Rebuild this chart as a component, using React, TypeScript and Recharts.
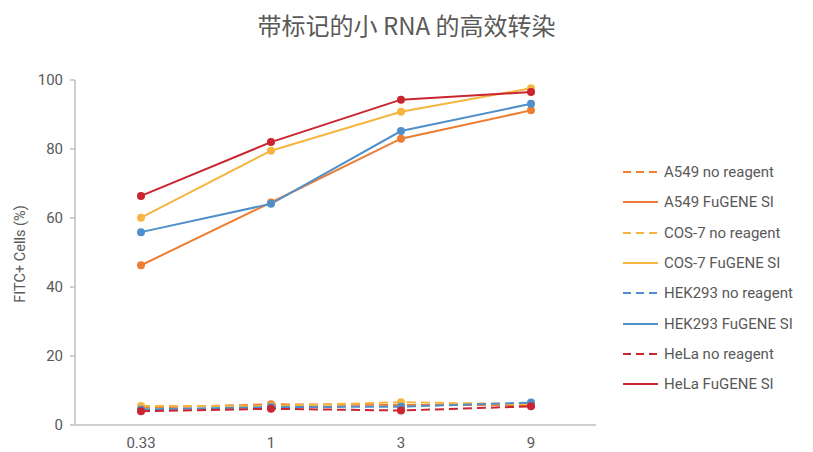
import React from 'react';
import { LineChart, Line, XAxis, YAxis } from 'recharts';

const categories = ['0.33', '1', '3', '9'];
const a549None = [5.0, 6.0, 5.8, 5.8];
const a549Fugene = [46.3, 64.5, 83.0, 91.2];
const cos7None = [5.5, 5.5, 6.6, 6.0];
const cos7Fugene = [60.1, 79.5, 90.8, 97.6];
const hek293None = [4.5, 5.2, 5.3, 6.5];
const hek293Fugene = [55.9, 64.1, 85.2, 93.1];
const helaNone = [4.0, 4.7, 4.2, 5.4];
const helaFugene = [66.4, 82.0, 94.3, 96.5];
const yTicks = [0, 20, 40, 60, 80, 100];

const seriesDefs = [
  { key: 'a549None', name: 'A549 no reagent', values: a549None, color: '#ED7D31', dashed: true },
  { key: 'a549Fugene', name: 'A549 FuGENE SI', values: a549Fugene, color: '#ED7D31', dashed: false },
  { key: 'cos7None', name: 'COS-7 no reagent', values: cos7None, color: '#F5B53F', dashed: true },
  { key: 'cos7Fugene', name: 'COS-7 FuGENE SI', values: cos7Fugene, color: '#F5B53F', dashed: false },
  { key: 'hek293None', name: 'HEK293 no reagent', values: hek293None, color: '#4F90CB', dashed: true },
  { key: 'hek293Fugene', name: 'HEK293 FuGENE SI', values: hek293Fugene, color: '#4F90CB', dashed: false },
  { key: 'helaNone', name: 'HeLa no reagent', values: helaNone, color: '#C9242F', dashed: true },
  { key: 'helaFugene', name: 'HeLa FuGENE SI', values: helaFugene, color: '#C9242F', dashed: false },
];

const data = categories.map((c, i) => {
  const row: Record<string, any> = { cat: c };
  seriesDefs.forEach((s) => {
    row[s.key] = s.values[i];
  });
  return row;
});

const FONT = 'Roboto, "Noto Sans", sans-serif';
const TEXT = '#595959';

const LegendBox = () => (
  <div
    style={{
      position: 'absolute',
      left: 622,
      top: 157,
      width: 190,
      fontFamily: FONT,
      fontSize: 15,
      color: TEXT,
    }}
  >
    {seriesDefs.map((s) => (
      <div key={s.key} style={{ display: 'flex', alignItems: 'center', height: 30.3 }}>
        <svg width={38} height={10} style={{ marginRight: 4 }}>
          <line
            x1={1}
            y1={5}
            x2={36}
            y2={5}
            stroke={s.color}
            strokeWidth={2}
            strokeDasharray={s.dashed ? '8 5' : undefined}
          />
        </svg>
        <span>{s.name}</span>
      </div>
    ))}
  </div>
);

export default function App() {
  return (
    <div style={{ position: 'absolute', left: 0, top: 0, width: 813, height: 452, background: '#fff', overflow: 'hidden' }}>
      <div
        style={{
          position: 'absolute',
          left: 0,
          top: 10,
          width: 813,
          textAlign: 'center',
          fontFamily: '"Noto Sans CJK SC", sans-serif',
          fontSize: 24,
          color: TEXT,
          lineHeight: '30px',
        }}
      >
        带标记的小 RNA 的高效转染
      </div>
      <div
        style={{
          position: 'absolute',
          left: 20,
          top: 254,
          transform: 'translate(-50%, -50%) rotate(-90deg)',
          fontFamily: FONT,
          fontSize: 14.5,
          color: TEXT,
          whiteSpace: 'nowrap',
        }}
      >
        FITC+ Cells (%)
      </div>
      <LineChart
        width={813}
        height={452}
        data={data}
        margin={{ top: 80, right: 217, bottom: 0, left: 19 }}
      >
        <XAxis
          dataKey="cat"
          height={27}
          padding={{ left: 66, right: 65 }}
          axisLine={{ stroke: '#BFBFBF', strokeWidth: 1.5 }}
          tickLine={false}
          tick={{ fill: TEXT, fontSize: 15, fontFamily: FONT }}
          tickMargin={6}
        />
        <YAxis
          width={56}
          domain={[0, 100]}
          ticks={yTicks}
          interval={0}
          axisLine={{ stroke: '#BFBFBF', strokeWidth: 1.5 }}
          tickLine={{ stroke: '#BFBFBF', strokeWidth: 1.5 }}
          tickSize={5}
          tick={{ fill: TEXT, fontSize: 15, fontFamily: FONT }}
          tickMargin={7}
        />
        {seriesDefs.map((s) => (
          <Line
            key={s.key}
            dataKey={s.key}
            name={s.name}
            stroke={s.color}
            strokeWidth={2}
            strokeDasharray={s.dashed ? '9 5' : undefined}
            dot={{ r: 4, fill: s.color, stroke: s.color, strokeWidth: 0 }}
            activeDot={false}
            isAnimationActive={false}
            type="linear"
          />
        ))}
      </LineChart>
      <LegendBox />
    </div>
  );
}
